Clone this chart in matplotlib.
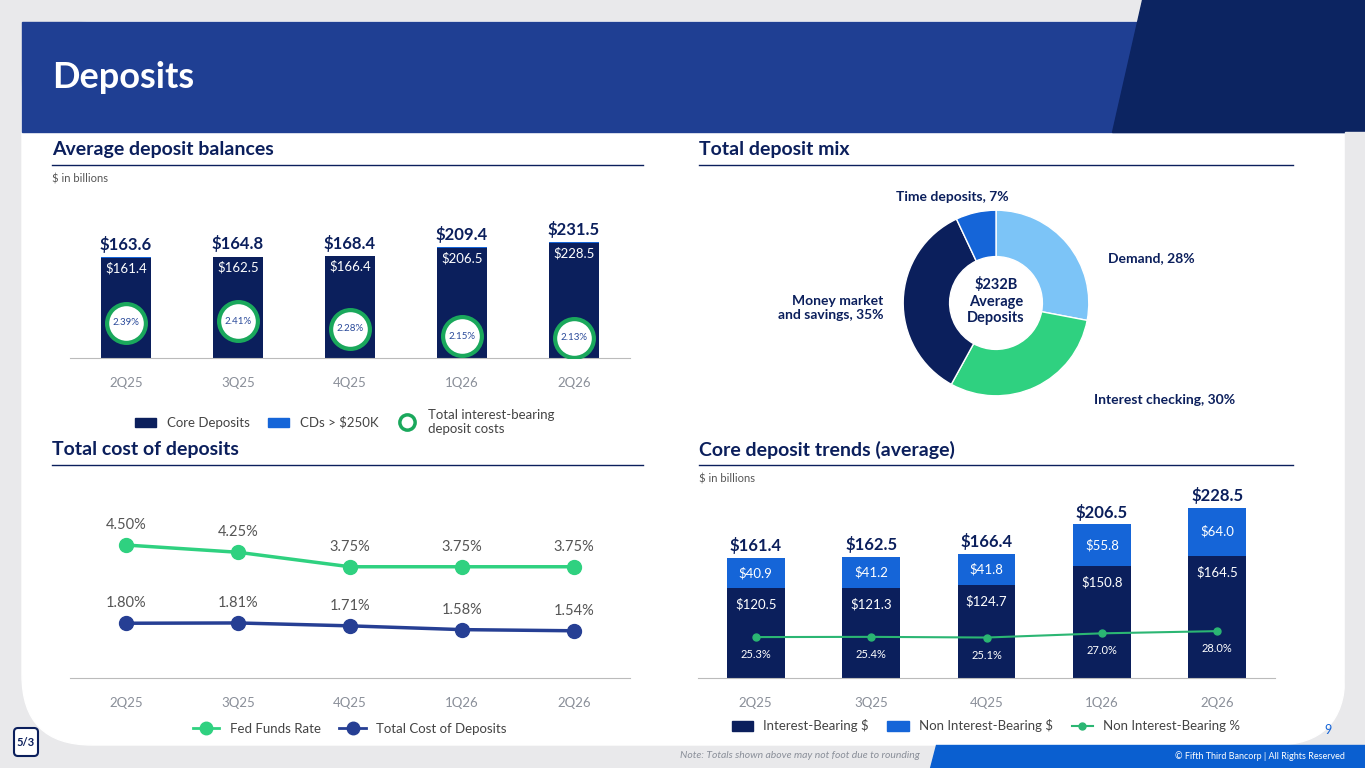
import matplotlib.pyplot as plt
from matplotlib.patches import Polygon, Rectangle, FancyBboxPatch, Circle
from matplotlib.lines import Line2D

plt.rcParams['font.family'] = ['Lato', 'DejaVu Sans']

NAVY = '#0b1f5c'
BLUE = '#1565d8'
GREEN = '#2fd180'
LBLUE = '#7cc4f7'
GREY = '#8a8f99'

quarters = ['2Q25', '3Q25', '4Q25', '1Q26', '2Q26']
total_avg = [163.6, 164.8, 168.4, 209.4, 231.5]
core_dep = [161.4, 162.5, 166.4, 206.5, 228.5]
ib_cost = [2.39, 2.41, 2.28, 2.15, 2.13]

mix_labels = ['Demand, 28%', 'Interest checking, 30%', 'Money market\nand savings, 35%', 'Time deposits, 7%']
mix_vals = [28, 30, 35, 7]

fed_funds = [4.50, 4.25, 3.75, 3.75, 3.75]
cost_dep = [1.80, 1.81, 1.71, 1.58, 1.54]

ib_amt = [120.5, 121.3, 124.7, 150.8, 164.5]
nib_amt = [40.9, 41.2, 41.8, 55.8, 64.0]
core_tot = [161.4, 162.5, 166.4, 206.5, 228.5]
nib_pct = [25.3, 25.4, 25.1, 27.0, 28.0]

W, H = 1365, 768
fig = plt.figure(figsize=(W / 100, H / 100), dpi=100)


def rect(x0, y0, x1, y1):
    return [x0 / W, 1 - y1 / H, (x1 - x0) / W, (y1 - y0) / H]


bg = fig.add_axes([0, 0, 1, 1])
bg.set_xlim(0, W)
bg.set_ylim(H, 0)
bg.axis('off')
bg.add_patch(Rectangle((0, 0), W, H, color='#e9e9eb'))
bg.add_patch(FancyBboxPatch((22, 22), 1323, 723, boxstyle='round,pad=0,rounding_size=70', color='white'))
bg.add_patch(Rectangle((22, 22), 1323, 110, color='#1f3f93'))
bg.add_patch(Polygon([(1142, 0), (W, 0), (W, 132), (1112, 132)], color='#0c2461'))
bg.add_patch(Rectangle((1345, 132), 20, 613, color='#e9e9eb'))
bg.add_patch(Polygon([(936, 745), (W, 745), (W, H), (930, H)], color='#0a5fd0'))
bg.text(52, 78, 'Deposits', color='white', fontsize=26, fontweight='bold', va='center')
bg.text(920, 756, 'Note: Totals shown above may not foot due to rounding', fontsize=7.5, style='italic',
        color=GREY, ha='right', va='center')
bg.text(1345, 756, '© Fifth Third Bancorp | All Rights Reserved', fontsize=6.5, color='white', ha='right', va='center')
bg.text(1328, 730, '9', fontsize=9, color=BLUE, ha='center', va='center')
bg.add_patch(FancyBboxPatch((14, 728), 24, 28, boxstyle='round,pad=0,rounding_size=4', fc='white', ec=NAVY, lw=1.5))
bg.text(26, 742, '5/3', fontsize=8, fontweight='bold', color=NAVY, ha='center', va='center')

for x0, x1, y, t in [(52, 643, 150, 'Average deposit balances'), (699, 1293, 150, 'Total deposit mix'),
                     (52, 643, 450, 'Total cost of deposits'), (699, 1293, 450, 'Core deposit trends (average)')]:
    bg.text(x0, y, t, fontsize=14, fontweight='bold', color=NAVY, va='center')
    bg.plot([x0, x1], [y + 15, y + 15], color=NAVY, lw=1)
bg.text(52, 179, '$ in billions', fontsize=8, color='#555555', va='center')
bg.text(699, 479, '$ in billions', fontsize=8, color='#555555', va='center')

# Average deposit balances (axis does not start at zero)
xs = range(len(quarters))
base = -293
ax1 = fig.add_axes(rect(70, 190, 630, 358))
ax1.patch.set_visible(False)
cds = [t - c for t, c in zip(total_avg, core_dep)]
ax1.bar(xs, [c - base for c in core_dep], width=0.45, color=NAVY, bottom=base)
ax1.bar(xs, cds, width=0.45, color=BLUE, bottom=core_dep)
ax1.set_ylim(base, 467)
ax1.set_xlim(-0.5, 4.5)
for i in xs:
    ax1.text(i, total_avg[i] + 20, f'${total_avg[i]:.1f}', ha='center', va='bottom', fontsize=12,
             fontweight='bold', color=NAVY)
    ax1.text(i, core_dep[i] - 18, f'${core_dep[i]:.1f}', ha='center', va='top', fontsize=9.5, color='white')
ax1.set_xticks(list(xs), quarters)
ax1.tick_params(length=0, labelsize=9.5, labelcolor=GREY, pad=14)
ax1.set_yticks([])
for s in ['top', 'right', 'left']:
    ax1.spines[s].set_visible(False)
ax1.spines['bottom'].set_color('#bbbbbb')
ax1b = ax1.twinx()
ax1b.set_ylim(1.776, 4.69)
ax1b.scatter(xs, ib_cost, s=780, facecolor='white', edgecolor='#1aa85c', linewidth=3, zorder=5)
for i in xs:
    ax1b.text(i, ib_cost[i], f'{ib_cost[i]:.2f}%', ha='center', va='center', fontsize=7, color='#2a4a9a', zorder=6)
ax1b.axis('off')

handles = [Rectangle((0, 0), 1, 1, color=NAVY), Rectangle((0, 0), 1, 1, color=BLUE),
           Line2D([], [], ls='none', marker='o', mfc='white', mec='#1aa85c', mew=2.5, ms=11)]
fig.legend(handles, ['Core Deposits', 'CDs > $250K', 'Total interest-bearing\ndeposit costs'],
           loc='upper center', bbox_to_anchor=(345 / W, 1 - 397 / H), ncol=3, frameon=False,
           fontsize=9.5, labelcolor='#444444', handlelength=1.6, columnspacing=1.4)

# Total deposit mix
ax2 = fig.add_axes(rect(880, 187, 1112, 419))
ax2.pie(mix_vals, colors=[LBLUE, GREEN, NAVY, BLUE], startangle=90, counterclock=False,
        wedgeprops=dict(width=0.5, edgecolor='white', linewidth=1))
ax2.add_patch(Circle((0, 0), 0.47, color='white'))
ax2.text(0, 0.02, '$232B\nAverage\nDeposits', ha='center', va='center', fontsize=10.5, fontweight='bold',
         color=NAVY, linespacing=1.2)
ax2.set_aspect('equal')
for pos, lab, ha in [((1195, 258), mix_labels[0], 'right'), ((1235, 400), mix_labels[1], 'right'),
                     ((883, 308), mix_labels[2], 'right'), ((952, 197), mix_labels[3], 'center')]:
    bg.text(pos[0], pos[1], lab, ha=ha, va='center', fontsize=10, fontweight='bold', color=NAVY)

# Total cost of deposits
ax3 = fig.add_axes(rect(70, 470, 630, 678))
ax3.patch.set_visible(False)
ax3.plot(xs, fed_funds, color=GREEN, lw=2.5, marker='o', ms=10)
ax3.plot(xs, cost_dep, color='#263f94', lw=2.5, marker='o', ms=10)
for i in xs:
    ax3.text(i, fed_funds[i] + 0.45, f'{fed_funds[i]:.2f}%', ha='center', va='bottom', fontsize=10.5, color='#555555')
    ax3.text(i, cost_dep[i] + 0.45, f'{cost_dep[i]:.2f}%', ha='center', va='bottom', fontsize=10.5, color='#555555')
ax3.set_ylim(-0.09, 7.09)
ax3.set_xlim(-0.5, 4.5)
ax3.set_xticks(list(xs), quarters)
ax3.tick_params(length=0, labelsize=9.5, labelcolor=GREY, pad=14)
ax3.set_yticks([])
for s in ['top', 'right', 'left']:
    ax3.spines[s].set_visible(False)
ax3.spines['bottom'].set_color('#bbbbbb')
fig.legend([Line2D([], [], color=GREEN, lw=2, marker='o', ms=9), Line2D([], [], color='#263f94', lw=2, marker='o', ms=9)],
           ['Fed Funds Rate', 'Total Cost of Deposits'], loc='center', bbox_to_anchor=(350 / W, 1 - 729 / H),
           ncol=2, frameon=False, fontsize=9.5, labelcolor='#444444', handlelength=2, columnspacing=1.4)

# Core deposit trends
ax4 = fig.add_axes(rect(698, 480, 1275, 678))
ax4.patch.set_visible(False)
ax4.bar(xs, ib_amt, width=0.5, color=NAVY)
ax4.bar(xs, nib_amt, width=0.5, color=BLUE, bottom=ib_amt)
ax4.set_ylim(0, 266)
ax4.set_xlim(-0.5, 4.5)
for i in xs:
    ax4.text(i, core_tot[i] + 5, f'${core_tot[i]:.1f}', ha='center', va='bottom', fontsize=12,
             fontweight='bold', color=NAVY)
    ax4.text(i, ib_amt[i] + nib_amt[i] / 2, f'${nib_amt[i]:.1f}', ha='center', va='center', fontsize=9.5, color='white')
    ax4.text(i, ib_amt[i] - 22, f'${ib_amt[i]:.1f}', ha='center', va='center', fontsize=9.5, color='white')
ax4.set_xticks(list(xs), quarters)
ax4.tick_params(length=0, labelsize=9.5, labelcolor=GREY, pad=14)
ax4.set_yticks([])
for s in ['top', 'right', 'left']:
    ax4.spines[s].set_visible(False)
ax4.spines['bottom'].set_color('#bbbbbb')
ax4b = ax4.twinx()
ax4b.set_ylim(6.7, 96.7)
ax4b.plot(xs, nib_pct, color='#2bb673', lw=1.5, marker='o', ms=5)
for i in xs:
    ax4b.text(i, nib_pct[i] - 8, f'{nib_pct[i]:.1f}%', ha='center', va='center', fontsize=8, color='white')
ax4b.axis('off')
fig.legend([Rectangle((0, 0), 1, 1, color=NAVY), Rectangle((0, 0), 1, 1, color=BLUE),
            Line2D([], [], color='#2bb673', lw=1.5, marker='o', ms=5)],
           ['Interest-Bearing $', 'Non Interest-Bearing $', 'Non Interest-Bearing %'], loc='center',
           bbox_to_anchor=(986 / W, 1 - 726 / H), ncol=3, frameon=False, fontsize=9.5, labelcolor='#444444',
           handlelength=1.6, columnspacing=1.4)

fig.savefig('out.png', dpi=100)
